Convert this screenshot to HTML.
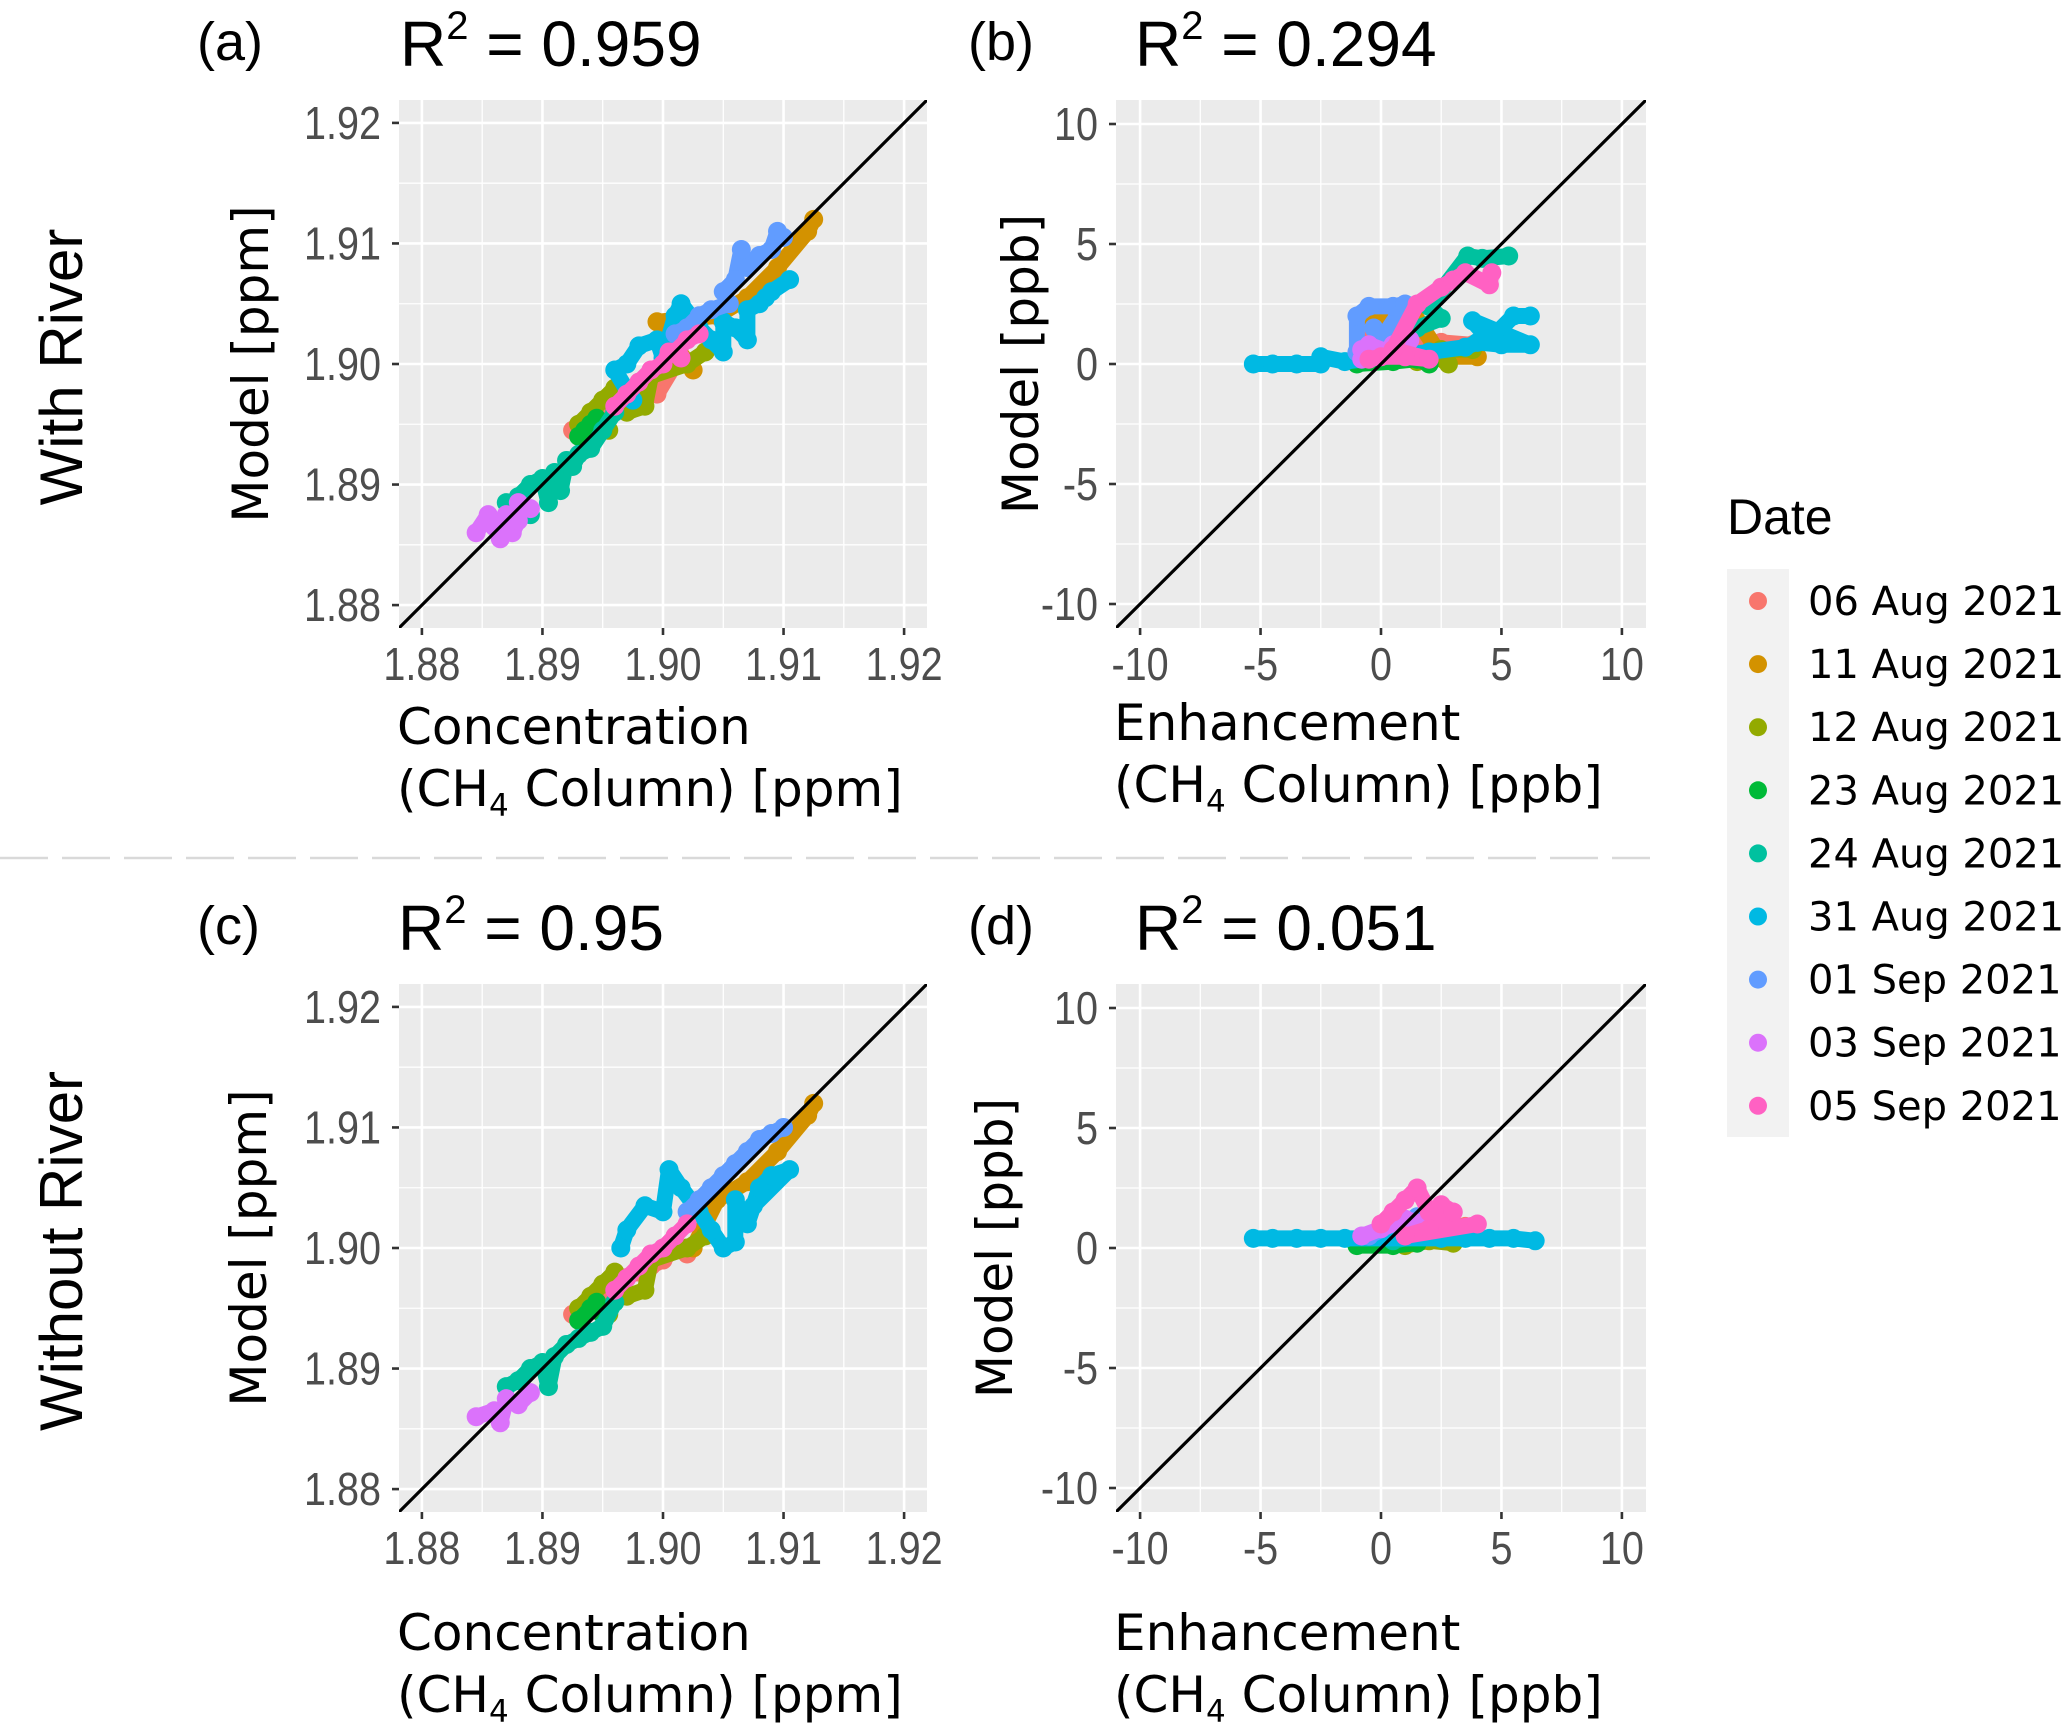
<!DOCTYPE html>
<html><head><meta charset="utf-8"><style>
html,body{margin:0;padding:0;background:#fff}
svg text{font-family:"Liberation Sans",sans-serif}
svg text.dv{font-family:"DejaVu Sans",sans-serif}
</style></head><body>
<svg id="fig" width="2067" height="1724" viewBox="0 0 2067 1724" xmlns="http://www.w3.org/2000/svg"></svg>
<script>
const dates=["06 Aug 2021","11 Aug 2021","12 Aug 2021","23 Aug 2021","24 Aug 2021","31 Aug 2021","01 Sep 2021","03 Sep 2021","05 Sep 2021"];
const colors=["#F8766D","#D39200","#93AA00","#00BA38","#00C19F","#00B9E3","#619CFF","#DB72FB","#FF61C3"];
const concTicks=[1.88,1.89,1.90,1.91,1.92];
const concTickLabels=["1.88","1.89","1.90","1.91","1.92"];
const enhTicks=[-10,-5,0,5,10];
const enhTickLabels=["-10","-5","0","5","10"];
const aData=[
 [[1.8925,1.8945],[1.8965,1.8975],[1.898,1.898],[1.899,1.8985],[1.900,1.899],[1.901,1.900],[1.8995,1.8975]],
 [[1.9025,1.8995],[1.8995,1.9035],[1.9045,1.904],[1.907,1.9055],[1.9095,1.908],[1.912,1.911],[1.9125,1.912]],
 [[1.8955,1.8945],[1.893,1.895],[1.894,1.896],[1.895,1.897],[1.896,1.898],[1.897,1.896],[1.8985,1.8965],[1.899,1.899],[1.902,1.900],[1.9035,1.901]],
 [[1.893,1.894],[1.8935,1.8945],[1.894,1.895],[1.8945,1.8955],[1.895,1.8945]],
 [[1.887,1.8885],[1.889,1.8875],[1.888,1.889],[1.889,1.890],[1.890,1.8905],[1.8905,1.8885],[1.891,1.891],[1.8915,1.8895],[1.892,1.892],[1.8925,1.8915],[1.893,1.8925],[1.894,1.893],[1.895,1.8945],[1.896,1.896]],
 [[1.8975,1.897],[1.896,1.8995],[1.897,1.900],[1.898,1.9015],[1.8995,1.902],[1.900,1.9005],[1.901,1.904],[1.9015,1.905],[1.903,1.903],[1.904,1.902],[1.905,1.901],[1.905,1.9035],[1.906,1.903],[1.907,1.902],[1.907,1.9045],[1.908,1.905],[1.9085,1.9055],[1.909,1.906],[1.9105,1.907]],
 [[1.901,1.9025],[1.902,1.903],[1.903,1.904],[1.904,1.9045],[1.9055,1.905],[1.905,1.906],[1.906,1.907],[1.9065,1.9095],[1.907,1.908],[1.908,1.909],[1.909,1.9095],[1.9095,1.911],[1.910,1.9105]],
 [[1.8845,1.886],[1.8855,1.8875],[1.886,1.8865],[1.8865,1.8855],[1.887,1.8875],[1.8875,1.886],[1.888,1.887],[1.888,1.8885],[1.889,1.888]],
 [[1.896,1.8965],[1.897,1.8975],[1.898,1.8985],[1.899,1.8995],[1.900,1.900],[1.9005,1.901],[1.9015,1.9005],[1.901,1.901],[1.902,1.902],[1.903,1.9025]]
];
const cData=[
 [[1.8925,1.8945],[1.8965,1.8975],[1.898,1.898],[1.899,1.8985],[1.900,1.899],[1.901,1.900],[1.902,1.8995]],
 [[1.9025,1.9],[1.9045,1.904],[1.907,1.9055],[1.9095,1.908],[1.912,1.911],[1.9125,1.912]],
 [[1.8955,1.8945],[1.893,1.895],[1.894,1.896],[1.895,1.897],[1.896,1.898],[1.897,1.896],[1.8985,1.8965],[1.899,1.899],[1.902,1.900],[1.9035,1.901]],
 [[1.893,1.894],[1.894,1.895],[1.895,1.8945],[1.8945,1.8955]],
 [[1.887,1.8885],[1.888,1.889],[1.889,1.890],[1.890,1.8905],[1.8905,1.8885],[1.891,1.891],[1.892,1.892],[1.893,1.8925],[1.894,1.893],[1.895,1.8935],[1.896,1.8955]],
 [[1.8965,1.9],[1.897,1.9015],[1.8985,1.9035],[1.900,1.903],[1.9005,1.9065],[1.9015,1.905],[1.903,1.903],[1.904,1.9015],[1.905,1.9],[1.906,1.9005],[1.906,1.904],[1.907,1.902],[1.908,1.905],[1.909,1.906],[1.9105,1.9065],[1.9075,1.9035]],
 [[1.902,1.903],[1.903,1.904],[1.904,1.905],[1.905,1.906],[1.906,1.907],[1.907,1.908],[1.908,1.909],[1.909,1.9095],[1.910,1.910]],
 [[1.8845,1.886],[1.886,1.8865],[1.8865,1.8855],[1.887,1.8875],[1.888,1.887],[1.889,1.888]],
 [[1.896,1.8965],[1.897,1.8975],[1.898,1.8985],[1.899,1.8995],[1.900,1.900],[1.901,1.901],[1.902,1.902]]
];
const bData=[
 [[-0.5,1.0],[0.5,0.9],[1.5,0.8],[2.5,0.9],[3.8,0.8]],
 [[-0.8,2.0],[0,2.0],[1.3,2.2],[2.5,0.3],[4,0.3]],
 [[1.5,0.1],[2,0.5],[2.8,0.0],[2.5,0.6],[3.8,0.6]],
 [[-1,0],[0.5,0.1],[1.5,0.2],[2,0]],
 [[0.5,1.0],[1.5,1.5],[2.5,1.9],[2.0,2.4],[3.6,4.5],[4.2,4.4],[5.3,4.5]],
 [[-5.3,0],[-4.5,0],[-3.5,0],[-2.5,0],[-2.5,0.3],[-1.5,0.1],[2,0.5],[3.5,0.7],[4,0.9],[5.0,0.8],[6.2,0.8],[3.8,1.8],[4.5,1.0],[5.5,2.0],[6.2,2.0]],
 [[-1,0.5],[-1,2],[-0.5,2.4],[0.5,2.4],[1,2.5],[0,1],[-0.3,1.5]],
 [[-0.8,0.2],[-0.8,0.6],[-0.5,0.8],[0.3,0.5],[0.5,0.8],[1.2,1.0]],
 [[-0.5,0.2],[0,0.3],[1,0.3],[2,0.2],[0.5,0.6],[1.5,2.5],[2.5,3.2],[3,3.5],[3.5,3.8],[4.5,3.3],[4.6,3.8]]
];
const dData=[
 [[0,0.6],[1,0.8],[2,0.9],[3.5,0.9]],
 [[0.5,0.4],[1.5,0.6],[2.5,0.4],[3.5,0.5]],
 [[1,0.1],[2,0.3],[3,0.2]],
 [[-1,0.1],[0.5,0.1],[1.5,0.2]],
 [[0.5,0.3],[1.5,0.5],[2.5,0.6]],
 [[-5.3,0.4],[-4.5,0.4],[-3.5,0.4],[-2.5,0.4],[-1.5,0.4],[2.5,0.4],[3.5,0.4],[4.5,0.4],[5.5,0.4],[6.4,0.3]],
 [[-0.5,0.5],[0.5,1.0],[1.5,1.3]],
 [[-0.8,0.5],[0,0.8],[1,1.2],[2,1.0]],
 [[0,1.0],[0.5,1.5],[1,2.0],[1.5,2.5],[2,1.5],[2.5,1.8],[3,1.5],[2,0.8],[1,0.5],[4,1.0]]
];

const NS="http://www.w3.org/2000/svg";
const svg=document.getElementById('fig');
function mk(tag,attrs,parent,text){const e=document.createElementNS(NS,tag);for(const k in attrs)e.setAttribute(k,attrs[k]);if(text!==undefined)e.textContent=text;(parent||svg).appendChild(e);return e;}

function panel(opt){
 const g=mk('g',{});
 
 
 const L=opt.left,R=opt.right,T=opt.top,B=opt.bottom,lo=opt.lo,hi=opt.hi;
 const sx=v=>L+(v-lo)/(hi-lo)*(R-L);
 const sy=v=>B-(v-lo)/(hi-lo)*(B-T);
 const bg=mk('rect',{x:L,y:T,width:R-L,height:B-T,fill:'#EBEBEB'},g);
 
 
 const t=opt.ticks;
 for(let i=0;i<t.length-1;i++){const m=(t[i]+t[i+1])/2;
  mk('line',{x1:sx(m),x2:sx(m),y1:T,y2:B,stroke:'#fff','stroke-width':1.3},g);
  mk('line',{x1:L,x2:R,y1:sy(m),y2:sy(m),stroke:'#fff','stroke-width':1.3},g);}
 t.forEach((v,i)=>{
  mk('line',{x1:sx(v),x2:sx(v),y1:T,y2:B,stroke:'#fff','stroke-width':2.6},g);
  mk('line',{x1:L,x2:R,y1:sy(v),y2:sy(v),stroke:'#fff','stroke-width':2.6},g);
  mk('line',{x1:sx(v),x2:sx(v),y1:B,y2:B+7,stroke:'#333','stroke-width':2.6},g);
  mk('line',{x1:L-7,x2:L,y1:sy(v),y2:sy(v),stroke:'#333','stroke-width':2.6},g);
  const xl=mk('text',{x:sx(v),y:B+52,'text-anchor':'middle','font-size':46,fill:'#4D4D4D',transform:`translate(${sx(v)},0) scale(0.86,1) translate(${-sx(v)},0)`},g,opt.tickLabels[i]);
  
  
  const yl=mk('text',{x:L-18,y:sy(v)+16,'text-anchor':'end','font-size':46,fill:'#4D4D4D',transform:`translate(${L-18},0) scale(0.86,1) translate(${-(L-18)},0)`},g,opt.tickLabels[i]);
  
  
 });
 const cp='clip'+opt.name;
 const cl=mk('clipPath',{id:cp},g);mk('rect',{x:L,y:T,width:R-L,height:B-T},cl);
 const pts=mk('g',{'clip-path':`url(#${cp})`},g);
 opt.data.forEach((ser,si)=>{
  const sg=mk('g',{},pts);
  
  
  const d=ser.map((p,j)=>(j?'L':'M')+sx(p[0]).toFixed(1)+' '+sy(p[1]).toFixed(1)).join(' ');
  mk('path',{d:d,fill:'none',stroke:colors[si],'stroke-width':16,'stroke-linecap':'round','stroke-linejoin':'round'},sg);
  ser.forEach(p=>{const c=mk('circle',{cx:sx(p[0]),cy:sy(p[1]),r:9.5,fill:colors[si]},sg);
   
   });
 });
 const ln=mk('line',{x1:sx(lo),y1:sy(lo),x2:sx(hi),y2:sy(hi),stroke:'#000','stroke-width':3.2},pts);
 
 
 const tl=mk('text',{x:opt.tagX,y:T-40,'font-size':54,fill:'#000'},g,opt.tag);
 
 
 const r2=mk('text',{x:opt.r2X,y:T-34,'font-size':64,fill:'#000'},g);
 
 
 mk('tspan',{},r2,'R');mk('tspan',{dy:-27,'font-size':40},r2,'2');mk('tspan',{dy:27},r2,' = '+opt.r2);
 const yt=mk('text',{x:0,y:0,'font-size':50,'text-anchor':'middle',fill:'#000','class':'dv',transform:`translate(${opt.yTitleX},${(T+B)/2}) rotate(-90)`},g,opt.yTitle);
 
 
 const xt=mk('text',{x:L-2,y:B+116+opt.xdy,'font-size':50,fill:'#000','class':'dv'},g);
 
 
 mk('tspan',{x:L-2},xt,opt.xTitle);
 mk('tspan',{x:L-2,dy:62},xt,'(CH');mk('tspan',{dy:10,'font-size':31},xt,'4');mk('tspan',{dy:-10},xt,' Column) '+opt.unit);
}

panel({name:'panel-a',left:399,right:927,top:100,bottom:628,lo:1.8781,hi:1.9219,ticks:concTicks,tickLabels:concTickLabels,data:aData,tag:'(a)',tagX:197,r2X:400,r2:'0.959',yTitle:'Model  [ppm]',yTitleX:268,xTitle:'Concentration',unit:'[ppm]',xdy:0});
panel({name:'panel-b',left:1116,right:1646,top:100,bottom:628,lo:-11,hi:11,ticks:enhTicks,tickLabels:enhTickLabels,data:bData,tag:'(b)',tagX:968,r2X:1135,r2:'0.294',yTitle:'Model  [ppb]',yTitleX:1038,xTitle:'Enhancement',unit:'[ppb]',xdy:-4});
panel({name:'panel-c',left:399,right:927,top:984,bottom:1512,lo:1.8781,hi:1.9219,ticks:concTicks,tickLabels:concTickLabels,data:cData,tag:'(c)',tagX:197,r2X:398,r2:'0.95',yTitle:'Model  [ppm]',yTitleX:266,xTitle:'Concentration',unit:'[ppm]',xdy:22});
panel({name:'panel-d',left:1116,right:1646,top:984,bottom:1512,lo:-11,hi:11,ticks:enhTicks,tickLabels:enhTickLabels,data:dData,tag:'(d)',tagX:968,r2X:1135,r2:'0.051',yTitle:'Model  [ppb]',yTitleX:1012,xTitle:'Enhancement',unit:'[ppb]',xdy:22});

[['With River',367,'row-label-with-river'],['Without River',1251,'row-label-without-river']].forEach(r=>{
 const t=mk('text',{x:0,y:0,'font-size':60,'text-anchor':'middle',fill:'#000',transform:`translate(82,${r[1]}) rotate(-90)`},svg,r[0]);
 
 
});
const sep=mk('line',{x1:0,x2:1650,y1:858,y2:858,stroke:'#D9D9D9','stroke-width':2.5,'stroke-dasharray':'48 14'});


const lg=mk('g',{});


const lt=mk('text',{x:1727,y:534,'font-size':50,fill:'#000'},lg,'Date');


mk('rect',{x:1727,y:569,width:62,height:568,fill:'#F2F2F2'},lg);
dates.forEach((d,i)=>{
 const e=mk('g',{},lg);
 
 
 const y=601+i*63.1;
 mk('circle',{cx:1758,cy:y,r:9,fill:colors[i]},e);
 mk('text',{x:1808,y:y+14,'font-size':40,fill:'#000','class':'dv'},e,d);
});
</script>
</body></html>
